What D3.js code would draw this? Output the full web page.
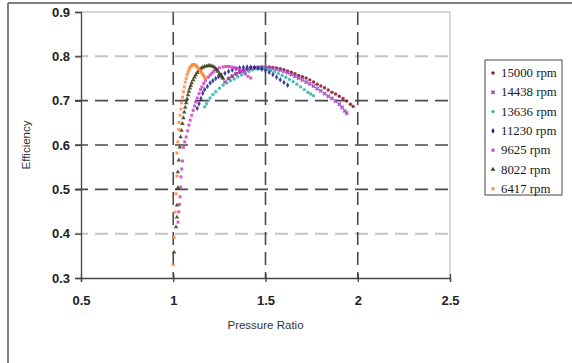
<!DOCTYPE html>
<html>
<head>
<meta charset="utf-8">
<script src="https://cdn.jsdelivr.net/npm/d3@7"></script>
<style>
  body { margin: 0; background: #fff; }
  svg { display: block; }
</style>
</head>
<body>
<div id="chart"></div>
<script>
// speed lines, values as [pressure ratio, efficiency]
const speeds = ["15000 rpm", "14438 rpm", "13636 rpm", "11230 rpm", "9625 rpm", "8022 rpm", "6417 rpm"];

const s15000 = [[1.30,0.750],[1.32,0.755],[1.34,0.760],[1.36,0.764],[1.38,0.767],[1.40,0.770],[1.42,0.772],[1.44,0.774],[1.46,0.775],[1.48,0.776],[1.50,0.776],[1.52,0.776],[1.54,0.775],[1.56,0.774],[1.58,0.772],[1.60,0.770],[1.62,0.767],[1.64,0.764],[1.66,0.761],[1.68,0.757],[1.70,0.754],[1.72,0.751],[1.74,0.747],[1.76,0.742],[1.78,0.737],[1.80,0.733],[1.82,0.729],[1.84,0.724],[1.86,0.719],[1.88,0.715],[1.90,0.710],[1.92,0.705],[1.94,0.699],[1.96,0.692],[1.975,0.687]];
const s14438 = [[1.28,0.742],[1.30,0.750],[1.32,0.755],[1.34,0.761],[1.36,0.765],[1.38,0.768],[1.40,0.770],[1.42,0.772],[1.44,0.774],[1.46,0.775],[1.48,0.775],[1.50,0.775],[1.52,0.774],[1.54,0.773],[1.56,0.771],[1.58,0.769],[1.60,0.766],[1.62,0.763],[1.64,0.759],[1.66,0.755],[1.68,0.751],[1.70,0.747],[1.72,0.742],[1.74,0.738],[1.76,0.733],[1.78,0.727],[1.80,0.722],[1.82,0.716],[1.84,0.710],[1.86,0.705],[1.88,0.699],[1.90,0.692],[1.915,0.685],[1.93,0.677],[1.94,0.672]];
const s13636 = [[1.17,0.686],[1.18,0.693],[1.19,0.700],[1.20,0.706],[1.215,0.714],[1.23,0.720],[1.25,0.728],[1.27,0.735],[1.29,0.740],[1.31,0.745],[1.33,0.749],[1.35,0.754],[1.37,0.758],[1.39,0.762],[1.41,0.766],[1.43,0.769],[1.45,0.772],[1.47,0.773],[1.49,0.773],[1.51,0.771],[1.53,0.768],[1.55,0.765],[1.57,0.761],[1.59,0.757],[1.61,0.753],[1.63,0.748],[1.65,0.743],[1.67,0.737],[1.69,0.731],[1.71,0.725],[1.73,0.719],[1.745,0.715],[1.76,0.711]];
const s11230 = [[1.13,0.683],[1.14,0.693],[1.15,0.705],[1.16,0.717],[1.17,0.725],[1.185,0.732],[1.20,0.740],[1.215,0.745],[1.23,0.750],[1.245,0.754],[1.26,0.758],[1.28,0.762],[1.30,0.766],[1.32,0.769],[1.34,0.772],[1.36,0.774],[1.38,0.775],[1.40,0.776],[1.42,0.776],[1.44,0.775],[1.46,0.773],[1.48,0.771],[1.50,0.768],[1.52,0.764],[1.54,0.759],[1.56,0.753],[1.58,0.747],[1.60,0.741],[1.62,0.735]];
const s9625 = [[1.026,0.426],[1.03,0.449],[1.034,0.466],[1.037,0.483],[1.04,0.505],[1.042,0.528],[1.046,0.546],[1.05,0.564],[1.055,0.595],[1.062,0.607],[1.07,0.618],[1.078,0.632],[1.085,0.645],[1.092,0.656],[1.10,0.667],[1.108,0.678],[1.115,0.688],[1.122,0.697],[1.13,0.706],[1.14,0.716],[1.148,0.725],[1.155,0.731],[1.165,0.739],[1.175,0.746],[1.19,0.753],[1.20,0.758],[1.21,0.762],[1.22,0.766],[1.235,0.770],[1.25,0.774],[1.27,0.776],[1.285,0.777],[1.30,0.777],[1.315,0.776],[1.33,0.775],[1.345,0.773],[1.36,0.770],[1.375,0.765],[1.39,0.760],[1.405,0.755],[1.42,0.751]];
const s8022 = [[1.005,0.358],[1.015,0.415],[1.02,0.437],[1.02,0.464],[1.025,0.503],[1.025,0.539],[1.03,0.566],[1.035,0.595],[1.04,0.618],[1.045,0.633],[1.05,0.648],[1.055,0.661],[1.06,0.674],[1.065,0.685],[1.07,0.695],[1.075,0.704],[1.08,0.713],[1.085,0.721],[1.09,0.728],[1.095,0.734],[1.10,0.740],[1.108,0.747],[1.115,0.753],[1.122,0.758],[1.13,0.763],[1.138,0.767],[1.145,0.770],[1.152,0.773],[1.16,0.775],[1.17,0.777],[1.18,0.778],[1.19,0.779],[1.20,0.779],[1.21,0.778],[1.22,0.776],[1.228,0.773],[1.235,0.770],[1.242,0.766],[1.25,0.761],[1.257,0.757],[1.265,0.753],[1.27,0.75]];
const s6417 = [[1.00,0.33],[1.005,0.392],[1.01,0.449],[1.015,0.49],[1.02,0.53],[1.02,0.582],[1.025,0.607],[1.03,0.635],[1.033,0.651],[1.037,0.667],[1.041,0.681],[1.045,0.695],[1.05,0.708],[1.055,0.72],[1.06,0.731],[1.065,0.742],[1.07,0.750],[1.075,0.758],[1.08,0.764],[1.085,0.770],[1.09,0.774],[1.095,0.777],[1.10,0.779],[1.105,0.781],[1.11,0.781],[1.115,0.781],[1.12,0.780],[1.125,0.778],[1.13,0.776],[1.135,0.773],[1.14,0.770],[1.145,0.767],[1.15,0.765],[1.155,0.762],[1.16,0.759],[1.165,0.756],[1.17,0.753],[1.175,0.75]];

const xTicks = [0.5, 1, 1.5, 2, 2.5];
const yTicks = [0.3, 0.4, 0.5, 0.6, 0.7, 0.8, 0.9];

const seriesData = [s15000, s14438, s13636, s11230, s9625, s8022, s6417];
const colors = ["#8b1020", "#a040c0", "#30b0a8", "#1a1f8a", "#d040c0", "#3a3a18", "#ff8a40"];
const shapes = [d3.symbolCircle, d3.symbolCross, d3.symbolCircle, d3.symbolDiamond, d3.symbolSquare, d3.symbolTriangle, d3.symbolSquare];
const rotate = [0, 45, 0, 0, 0, 0, 0];

const width = 572, height = 363;

const svg = d3.select("#chart").append("svg")
  .attr("width", width)
  .attr("height", height);

// outer frame (top and left edges only visible)
svg.append("line").attr("x1", 8).attr("x2", width).attr("y1", 3).attr("y2", 3)
  .attr("stroke", "#555").attr("stroke-width", 1.5);
svg.append("line").attr("x1", 8).attr("x2", 8).attr("y1", 3).attr("y2", height)
  .attr("stroke", "#555").attr("stroke-width", 1.5);

const x = d3.scaleLinear().domain([0.5, 2.5]).range([81, 450]);
const y = d3.scaleLinear().domain([0.3, 0.9]).range([278, 12]);

// plot frame top and right
svg.append("line").attr("x1", x(0.5)).attr("x2", x(2.5)).attr("y1", y(0.9)).attr("y2", y(0.9))
  .attr("stroke", "#c8c8c8").attr("stroke-width", 1.5);
svg.append("line").attr("x1", x(2.5)).attr("x2", x(2.5)).attr("y1", y(0.9)).attr("y2", y(0.3))
  .attr("stroke", "#c8c8c8").attr("stroke-width", 1.5);

// horizontal grid
const grid = svg.append("g");
grid.selectAll("line.h")
  .data([0.4, 0.5, 0.6, 0.7, 0.8])
  .enter()
  .append("line")
  .attr("x1", 75).attr("x2", x(2.5))
  .attr("y1", d => y(d)).attr("y2", d => y(d))
  .attr("stroke", d => (d === 0.4 || d === 0.8) ? "#c4c4c4" : "#4a4a4a")
  .attr("stroke-width", d => (d === 0.4 || d === 0.8) ? 2 : 1.6)
  .attr("stroke-dasharray", "13,7");

// vertical grid
grid.selectAll("line.v")
  .data([1, 1.5, 2])
  .enter()
  .append("line")
  .attr("x1", d => x(d)).attr("x2", d => x(d))
  .attr("y1", y(0.9)).attr("y2", y(0.3))
  .attr("stroke", "#4a4a4a")
  .attr("stroke-width", 1.6)
  .attr("stroke-dasharray", "13,7");

// axes
const yAxis = svg.append("g")
  .attr("transform", "translate(" + x(0.5) + ",0)")
  .call(d3.axisLeft(y).tickValues(yTicks).tickFormat(d3.format(".1f")).tickSize(6).tickPadding(5));
const xAxis = svg.append("g")
  .attr("transform", "translate(0," + y(0.3) + ")")
  .call(d3.axisBottom(x).tickValues(xTicks).tickFormat(d => String(d)).tickSize(4).tickPadding(14));

[xAxis, yAxis].forEach(a => {
  a.select(".domain").attr("stroke", "#444").attr("stroke-width", 1.3);
  a.selectAll(".tick line").attr("stroke", "#444").attr("stroke-width", 1.3);
  a.selectAll(".tick text")
    .attr("fill", "#222")
    .style("font-family", "'Liberation Sans', Arial, sans-serif")
    .style("font-size", "13px")
    .style("font-weight", "bold");
});
xAxis.selectAll(".tick line").attr("y1", -4);

// axis titles
svg.append("text")
  .attr("x", x(1.5)).attr("y", 329)
  .attr("text-anchor", "middle")
  .attr("fill", "#333")
  .style("font-family", "'Liberation Sans', Arial, sans-serif")
  .style("font-size", "11.5px")
  .text("Pressure Ratio");
svg.append("text")
  .attr("transform", "translate(30," + y(0.6) + ") rotate(-90)")
  .attr("text-anchor", "middle")
  .attr("fill", "#333")
  .style("font-family", "'Liberation Sans', Arial, sans-serif")
  .style("font-size", "11.5px")
  .text("Efficiency");

// points
const pts = svg.append("g");
seriesData.forEach((data, i) => {
  const sym = d3.symbol().type(shapes[i]).size(i === 1 ? 12 : 9);
  pts.append("g").selectAll("path")
    .data(data)
    .enter()
    .append("path")
    .attr("d", sym)
    .attr("transform", d => "translate(" + x(d[0]) + "," + y(d[1]) + ") rotate(" + rotate[i] + ")")
    .attr("fill", colors[i])
    .attr("opacity", 0.85);
});

// legend
const legend = svg.append("g");
legend.append("rect")
  .attr("x", 485).attr("y", 60).attr("width", 77).attr("height", 135)
  .attr("fill", "#fff").attr("stroke", "#444").attr("stroke-width", 1);
const items = legend.selectAll("g.item")
  .data(speeds)
  .enter()
  .append("g")
  .attr("transform", (d, i) => "translate(0," + (73 + i * 19.3) + ")");
items.append("path")
  .attr("d", (d, i) => d3.symbol().type(shapes[i]).size(i === 1 ? 12 : 9)())
  .attr("transform", (d, i) => "translate(493,0) rotate(" + rotate[i] + ")")
  .attr("fill", (d, i) => colors[i]);
items.append("text")
  .attr("x", 501).attr("y", 4)
  .attr("fill", "#1a1a1a")
  .style("font-family", "'Liberation Serif', 'Times New Roman', serif")
  .style("font-size", "12.8px")
  .text(d => d);
</script>
</body>
</html>
